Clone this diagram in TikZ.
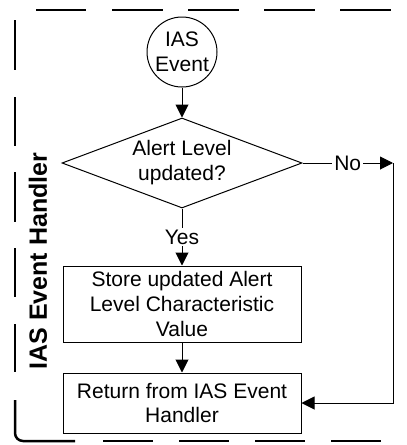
\documentclass[tikz,border=0pt]{standalone}
\usepackage{fontspec}
\setmainfont{Liberation Sans}
\usetikzlibrary{shapes.geometric,arrows.meta}
\begin{document}
\begin{tikzpicture}[x=0.5pt,y=-0.5pt,
  frame/.style={line width=1.25pt,line cap=butt},
  txt/.style={font=\fontsize{10.5}{12.5}\selectfont,align=center},
  shp/.style={draw,line width=0.5pt,txt,inner sep=0pt},
  boxst/.style={shp,rectangle,minimum width=119pt},
  arr/.style={draw,line width=0.5pt,-{Triangle[length=6.5pt,width=6.5pt]}},
  lbl/.style={txt,fill=white,inner sep=1pt}]
\useasboundingbox (0,0) rectangle (407,445);
% dashed frame
\foreach \a/\b in {36/86,112/163,188/239,264/315,340/391}
  \draw[frame] (\a,10) -- (\b,10);
\foreach \a/\b in {20/70,97/146,172/222,248/297,324/372}
  \draw[frame] (15,\a) -- (15,\b);
\draw[frame,rounded corners=4pt] (15,400) -- (15,441) -- (75,441);
\foreach \a/\b in {103/153,179/229,255/305,331/381}
  \draw[frame] (\a,441) -- (\b,441);
% label
\node[rotate=90,font=\fontsize{12.5}{14}\selectfont\bfseries] (title) at (38,261) {IAS Event Handler};
% nodes
\node[shp,circle,minimum size=35pt] (ev) at (182,52) {IAS\\Event};
\node[shp,diamond,shape aspect=2.67,minimum width=120pt,minimum height=45pt] (dia) at (182,163) {Alert Level\\updated?};
\node[boxst,minimum height=38pt] (st) at (182,304) {Store updated Alert\\Level Characteristic\\Value};
\node[boxst,minimum height=30pt] (ret) at (182,403) {Return from IAS Event\\Handler};
\coordinate (c1) at (393,163);
% connectors
\draw[arr] (ev) -- (dia);
\draw[arr] (dia) -- node[lbl,pos=0.5]{Yes} (st);
\draw[arr] (st) -- (ret);
\draw[arr] (dia.east) -- node[lbl,pos=0.5]{No} (c1);
\draw[arr] (c1) |- (ret.east);
\end{tikzpicture}
\end{document}
